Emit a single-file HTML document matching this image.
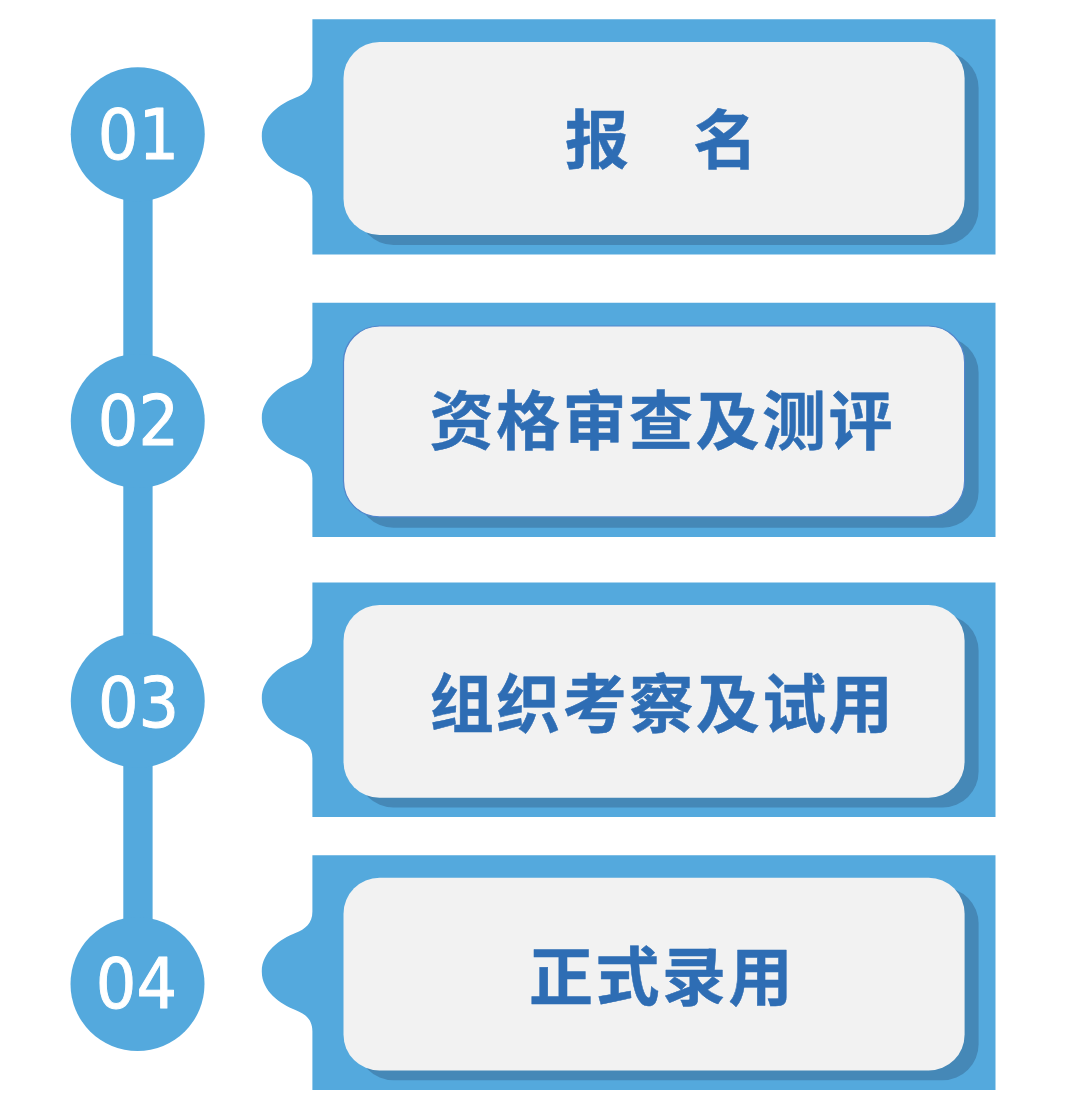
<!DOCTYPE html>
<html lang="zh-CN">
<head>
<meta charset="utf-8">
<title>流程</title>
<style>
html,body{margin:0;padding:0;background:#fff;}
body{width:1080px;height:1104px;overflow:hidden;}
svg{display:block;}
.num{font-family:"DejaVu Sans","Liberation Sans",sans-serif;font-size:69.5px;fill:#fff;stroke:#fff;stroke-width:1px;stroke-linejoin:round;text-anchor:middle;}
.lbl{font-family:"Liberation Sans","Noto Sans CJK SC",sans-serif;font-weight:bold;font-size:64px;letter-spacing:2.5px;fill:#2E6DB4;stroke:#2E6DB4;stroke-width:0.5px;stroke-linejoin:round;text-anchor:middle;}
</style>
</head>
<body>
<svg width="1080" height="1104" viewBox="0 0 1080 1104">

<rect x="123.3" y="134" width="29.3" height="850" fill="#54A9DD"/>
<circle cx="137.75" cy="134.2" r="67" fill="#54A9DD"/>
<circle cx="137.75" cy="421" r="67" fill="#54A9DD"/>
<circle cx="137.75" cy="700.7" r="67" fill="#54A9DD"/>
<circle cx="137.5" cy="984.1" r="67" fill="#54A9DD"/>
<text class="num" x="138.5" y="158.6" textLength="81.3" lengthAdjust="spacingAndGlyphs">01</text>
<text class="num" x="138.4" y="445.4" textLength="81.3" lengthAdjust="spacingAndGlyphs">02</text>
<text class="num" x="138.6" y="726.9" textLength="81.3" lengthAdjust="spacingAndGlyphs">03</text>
<text class="num" x="136.5" y="1007.6" textLength="81.3" lengthAdjust="spacingAndGlyphs">04</text>
<path d="M312.4,19.3 H995.5 V254.4 H312.4 V196.3 C312.4,184.3 305.4,178.8 295.4,174.8 C280.4,168.8 261.8,156.3 261.8,136.3 C261.8,116.3 280.4,103.8 295.4,97.8 C305.4,93.8 312.4,88.3 312.4,76.3 Z" fill="#54A9DD"/>
<rect x="357.5" y="52.1" width="621.1" height="192.8" rx="36" ry="36" fill="#4588B7"/>
<rect x="343.5" y="42.1" width="621.1" height="192.8" rx="36" ry="36" fill="#F2F2F2"/>
<text class="lbl" x="662.5" y="162.6">报　<tspan dx="-4.3">名</tspan></text>
<path d="M312.4,302.7 H995.5 V537.1 H312.4 V478.3 C312.4,466.3 305.4,460.8 295.4,456.8 C280.4,450.8 261.8,438.3 261.8,418.3 C261.8,398.3 280.4,385.8 295.4,379.8 C305.4,375.8 312.4,370.3 312.4,358.3 Z" fill="#54A9DD"/>
<rect x="357.5" y="336.9" width="621.1" height="190.9" rx="36" ry="36" fill="#4588B7"/>
<rect x="343.5" y="326" width="621.1" height="190.9" rx="36" ry="36" fill="#F2F2F2" stroke="#5286CB" stroke-width="1.2"/>
<text class="lbl" x="662.2" y="443.5">资格审查及测评</text>
<path d="M312.4,582.5 H995.5 V816.9 H312.4 V758.6 C312.4,746.6 305.4,741.1 295.4,737.1 C280.4,731.1 261.8,718.6 261.8,698.6 C261.8,678.6 280.4,666.1 295.4,660.1 C305.4,656.1 312.4,650.6 312.4,638.6 Z" fill="#54A9DD"/>
<rect x="357.5" y="614.7" width="621.1" height="192.8" rx="36" ry="36" fill="#4588B7"/>
<rect x="343.5" y="604.9" width="621.1" height="192.8" rx="36" ry="36" fill="#F2F2F2"/>
<text class="lbl" x="662.5" y="726.7">组织考察及试用</text>
<path d="M312.4,855.3 H995.5 V1090 H312.4 V1031.4 C312.4,1019.4 305.4,1013.9 295.4,1009.9 C280.4,1003.9 261.8,991.4 261.8,971.4 C261.8,951.4 280.4,938.9 295.4,932.9 C305.4,928.9 312.4,923.4 312.4,911.4 Z" fill="#54A9DD"/>
<rect x="357.5" y="887.5" width="621.1" height="192.8" rx="36" ry="36" fill="#4588B7"/>
<rect x="343.5" y="877.8" width="621.1" height="192.8" rx="36" ry="36" fill="#F2F2F2"/>
<text class="lbl" x="662.1" y="1000.1">正式录用</text>
</svg>
</body>
</html>
